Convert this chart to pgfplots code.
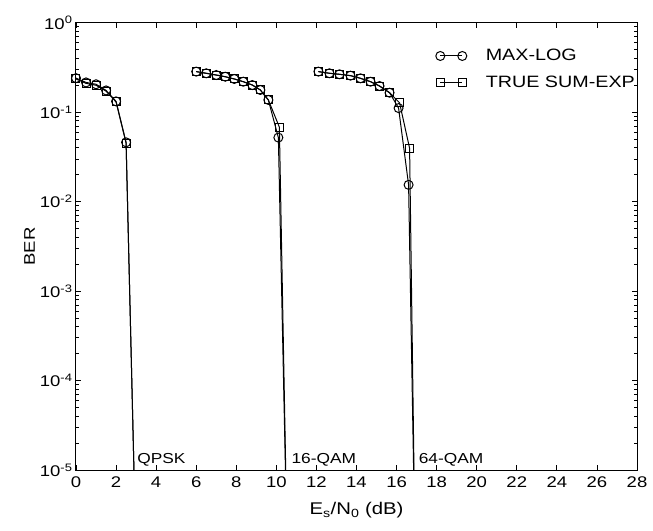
\documentclass[border=0pt]{standalone}
\usepackage{pgfplots}
\pgfplotsset{compat=1.18}
\usepackage{fontspec}
\setmainfont{Liberation Sans}[FakeStretch=1.2]
\begin{document}
\begin{tikzpicture}
\useasboundingbox (-76bp,-61bp) rectangle (577bp,470bp);
\begin{axis}[
  scale only axis,
  width=561bp, height=447.3bp,
  at={(0,0)}, anchor=south west,
  ymode=log,
  xmin=0, xmax=28, ymin=1e-5, ymax=1,
  xtick={0,2,...,28},
  ytick={1e-5,1e-4,1e-3,1e-2,1e-1,1},
  yticklabels={10\textsuperscript{-5},10\textsuperscript{-4},10\textsuperscript{-3},10\textsuperscript{-2},10\textsuperscript{-1},10\textsuperscript{0}},
  /pgf/number format/assume math mode=true,
  tick label style={font=\fontsize{15.5}{18}\selectfont},
  xticklabel style={yshift=-3bp},
  xlabel={E\textsubscript{s}/N\textsubscript{0} (dB)},
  ylabel={BER},
  xlabel style={font=\fontsize{17}{20}\selectfont, yshift=-8bp},
  ylabel style={font=\fontsize{15.5}{18}\selectfont, yshift=-2bp},
  axis line style={line width=1bp},
  major tick length=5bp, minor tick length=3bp,
  every tick/.style={black, line width=0.8bp},
  legend style={draw=none, fill=none, inner sep=0pt, at={(0.641,0.945)}, anchor=north west,
    font=\fontsize{16.5}{20}\selectfont, row sep=10bp,
    legend cell align=left},
  legend image code/.code={\draw[#1] plot coordinates {(0bp,0bp) (22bp,0bp)}; \path (43bp,0bp);},
  every axis plot/.append style={black, line width=1bp, mark options={solid, line width=1bp}},
]
% QPSK
\addplot[mark=o, mark size=4.5bp, mark indices={1,2,3,4,5,6}] coordinates {
 (0,0.24) (0.5,0.215) (1,0.205) (1.5,0.175) (2,0.132) (2.5,0.046) (3.0,1e-6)};
\addlegendentry{MAX-LOG}
\addplot[mark=square, mark size=4bp, mark indices={1,2,3,4,5,6}] coordinates {
 (0,0.235) (0.5,0.21) (1,0.2) (1.5,0.172) (2,0.13) (2.5,0.045) (3.0,1e-6)};
\addlegendentry{TRUE SUM-EXP}
% 16-QAM
\addplot[forget plot, mark=o, mark size=4.5bp, mark indices={1,2,3,4,5,6,7,8,9,10}] coordinates {
 (6,0.284) (6.5,0.272) (7,0.26) (7.45,0.249) (7.9,0.235) (8.35,0.219) (8.8,0.201) (9.2,0.177) (9.6,0.137) (10.1,0.052) (10.55,1e-6)};
\addplot[forget plot, mark=square, mark size=4bp, mark indices={1,2,3,4,5,6,7,8,9,10}] coordinates {
 (6,0.284) (6.5,0.272) (7,0.26) (7.45,0.249) (7.9,0.235) (8.35,0.219) (8.8,0.201) (9.2,0.177) (9.6,0.137) (10.15,0.068) (10.55,1e-6)};
% 64-QAM
\addplot[forget plot, mark=o, mark size=4.5bp, mark indices={1,2,3,4,5,6,7,8,9,10}] coordinates {
 (12.1,0.284) (12.65,0.272) (13.15,0.265) (13.7,0.256) (14.2,0.239) (14.7,0.219) (15.15,0.196) (15.65,0.165) (16.1,0.111) (16.6,0.0154) (16.93,1e-6)};
\addplot[forget plot, mark=square, mark size=4bp, mark indices={1,2,3,4,5,6,7,8,9,10}] coordinates {
 (12.1,0.284) (12.65,0.272) (13.15,0.265) (13.7,0.256) (14.2,0.239) (14.7,0.219) (15.15,0.196) (15.65,0.165) (16.15,0.127) (16.65,0.0395) (16.93,1e-6)};
\node[anchor=west, inner sep=0pt, font=\fontsize{14.5}{17}\selectfont] at (axis cs:3.05,1.3e-5) {QPSK};
\node[anchor=west, inner sep=0pt, font=\fontsize{14.5}{17}\selectfont] at (axis cs:10.75,1.3e-5) {16-QAM};
\node[anchor=west, inner sep=0pt, font=\fontsize{14.5}{17}\selectfont] at (axis cs:17.1,1.3e-5) {64-QAM};
\end{axis}
\end{tikzpicture}
\end{document}
